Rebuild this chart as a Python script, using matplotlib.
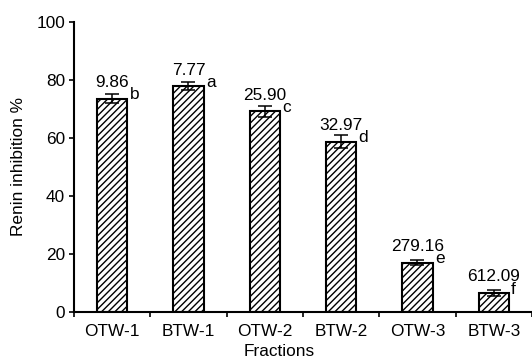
import numpy as np
import matplotlib
matplotlib.use("Agg")
import matplotlib.pyplot as plt

# Renin inhibition of peptide fractions with IC50 values and significance letters
fractions = ["OTW-1", "BTW-1", "OTW-2", "BTW-2", "OTW-3", "BTW-3"]
inhibition = [73.5, 77.7, 69.1, 58.7, 17.0, 6.5]
errors = [1.5, 1.4, 1.8, 2.3, 0.9, 0.9]
ic50_labels = ["9.86", "7.77", "25.90", "32.97", "279.16", "612.09"]
letters = ["b", "a", "c", "d", "e", "f"]

plt.rcParams['font.family'] = ['Liberation Sans', 'DejaVu Sans']
plt.rcParams['hatch.linewidth'] = 1.0

fs = 12.4
fig, ax = plt.subplots(figsize=(5.32, 3.59), dpi=100)
fig.subplots_adjust(left=0.139, right=1.0, top=0.9396, bottom=0.131)

x = np.arange(len(fractions))
width = 0.40
ax.bar(x, inhibition, width=width, color='white', edgecolor='black', linewidth=1.5,
       hatch='/////', yerr=errors, capsize=5,
       error_kw=dict(elinewidth=1.1, capthick=1.1, ecolor='black'))

for i in range(len(fractions)):
    # IC50 value above the bar, significance letter at the top right corner
    ax.annotate(ic50_labels[i], (x[i], inhibition[i]), xytext=(0, 8.5),
                textcoords='offset points', ha='center', va='baseline', fontsize=fs)
    ax.annotate(letters[i], (x[i] + width / 2, inhibition[i]), xytext=(1.5, -0.5),
                textcoords='offset points', ha='left', va='baseline', fontsize=fs)

ax.set_xlim(-0.5, len(fractions) - 0.55)
ax.set_ylim(0, 100)
ax.set_yticks(range(0, 101, 20))
ax.set_xticks(np.arange(-0.5, len(fractions), 1.0))
ax.set_xticklabels([])
ax.set_xticks(x, minor=True)
ax.set_xticklabels(fractions, minor=True)
ax.tick_params(axis='x', which='minor', length=0, labelsize=fs, pad=8.5)
ax.tick_params(axis='x', which='major', length=3.6, width=1.2, direction='out')
ax.tick_params(axis='y', labelsize=fs, length=3.5, width=1.2, direction='out', pad=3)
for side in ['top', 'right']:
    ax.spines[side].set_visible(False)
for side in ['left', 'bottom']:
    ax.spines[side].set_linewidth(1.5)

ax.set_ylabel("Renin inhibition %", fontsize=fs)
ax.yaxis.set_label_coords(-0.105, 0.5)
ax.set_xlabel("Fractions", fontsize=fs)
ax.xaxis.set_label_coords(0.448, -0.11)

fig.savefig("out.png", dpi=100)
